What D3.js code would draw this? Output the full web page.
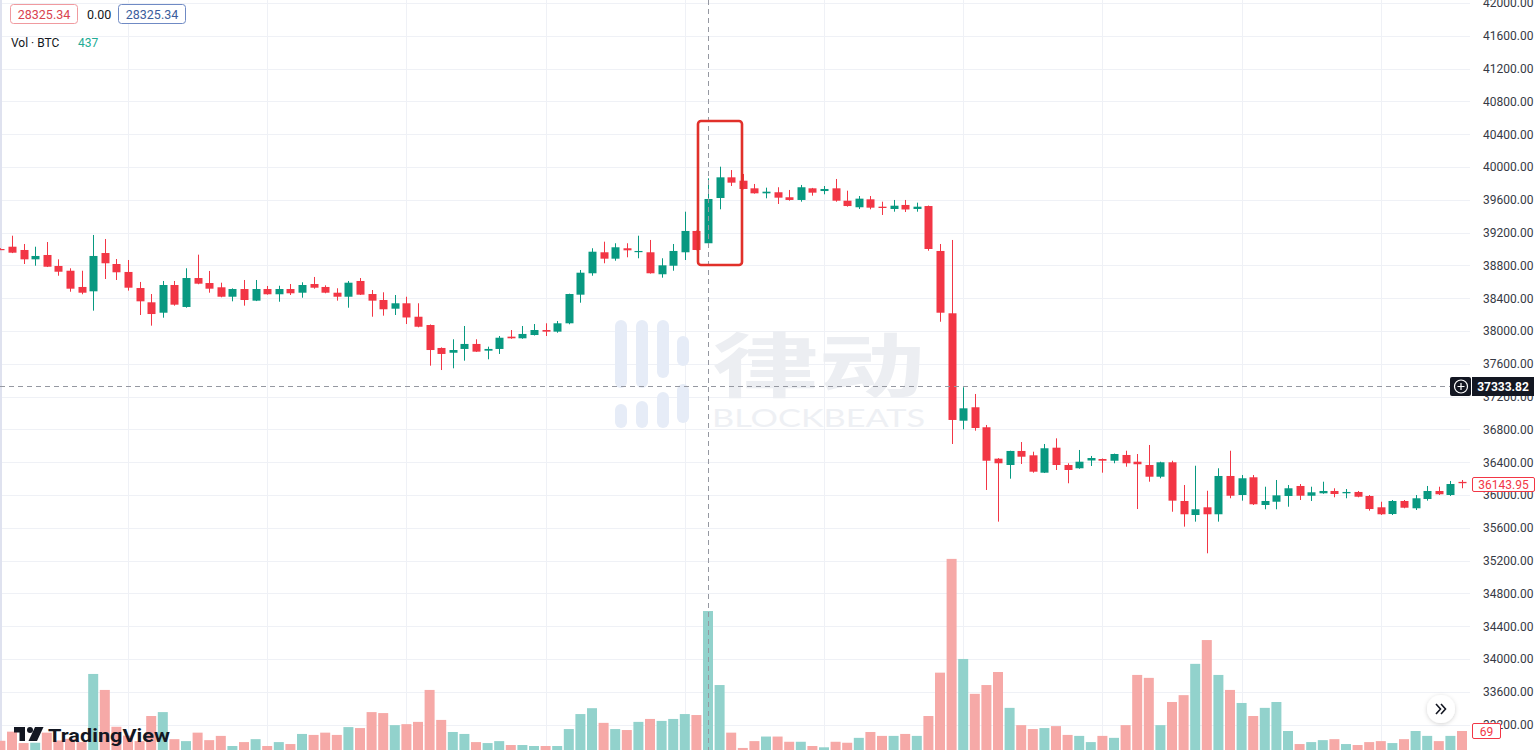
<!DOCTYPE html>
<html><head><meta charset="utf-8">
<script src="https://cdn.jsdelivr.net/npm/d3@7"></script>
<style>body{margin:0;background:#fff;overflow:hidden}svg{display:block}</style>
</head><body>
<svg id="c" width="1538" height="750"></svg>
<script>
// candle numbers (index -1 is the partly visible first candle)
const candleIdx = d3.range(-1, 126);
const opens = [39000,39028,38988,38874,38927,38793,38735,38537,38484,38951,38817,38720,38524,38350,38223,38561,38293,38646,38585,38533,38418,38512,38370,38512,38448,38512,38467,38573,38537,38467,38418,38610,38451,38378,38272,38338,38174,38073,37793,37735,37781,37842,37760,37781,37931,37911,37951,38012,37992,38094,38443,38704,38960,38882,39009,38967,38960,38692,38796,38960,39220,39070,39622,39874,39833,39740,39679,39692,39631,39598,39740,39707,39740,39589,39509,39606,39516,39488,39537,39488,39524,38976,38216,36906,37070,36826,36443,36366,36537,36484,36272,36577,36366,36326,36421,36439,36418,36488,36406,36366,36223,36399,35927,35756,35850,35765,36232,36000,36216,35878,35918,35988,36110,35991,36021,36049,36021,36037,35988,35850,35768,35927,35838,35951,36049,36000,36160];
const highs = [39010,39162,39061,39028,39085,38874,38765,38735,39171,39122,38878,38866,38598,38451,38610,38610,38765,38931,38732,38589,38520,38622,38622,38549,38552,38573,38594,38659,38557,38521,38610,38646,38500,38472,38439,38418,38338,38080,37800,37899,38061,37899,37809,37939,38012,38061,38085,38094,38122,38455,38744,39009,39089,39070,39070,39162,39110,38887,39061,39455,39225,39862,40004,39963,39915,39793,39748,39753,39720,39781,39745,39768,39854,39711,39646,39646,39577,39598,39598,39565,39530,39061,39110,37314,37232,36854,36450,36540,36646,36528,36622,36691,36387,36549,36476,36445,36505,36540,36500,36610,36406,36418,36122,36357,36052,36326,36540,36244,36244,36101,36183,36122,36134,36101,36162,36082,36073,36049,36000,35918,35939,35939,36000,36110,36101,36171,36183];
const lows = [38990,38950,38817,38796,38780,38674,38479,38448,38248,38634,38622,38492,38195,38065,38162,38309,38284,38570,38467,38411,38362,38309,38365,38443,38357,38439,38406,38516,38460,38370,38284,38439,38174,38187,38195,38085,38045,37577,37524,37545,37638,37745,37655,37720,37905,37905,37945,37939,37979,38082,38345,38674,38826,38857,38899,38887,38700,38650,38735,38866,38985,39040,39484,39768,39728,39675,39618,39549,39589,39577,39650,39667,39577,39516,39488,39484,39415,39455,39451,39455,38979,38113,36622,36801,36784,36061,35675,36199,36378,36272,36268,36305,36143,36320,36354,36272,36387,36345,35829,36162,36204,35796,35614,35675,35289,35675,35960,35931,35878,35826,35826,35857,35939,35927,36015,35972,35960,35972,35809,35756,35756,35838,35817,35931,36000,35988,36082];
const closes = [38995,38955,38874,38915,38784,38723,38516,38467,38915,38826,38716,38528,38362,38207,38561,38321,38646,38577,38516,38418,38512,38378,38512,38448,38512,38460,38561,38528,38467,38418,38589,38443,38370,38265,38338,38165,38052,37768,37720,37768,37842,37748,37781,37918,37911,37964,38012,37992,38094,38451,38711,38967,38882,39021,38984,38976,38704,38801,38976,39220,38988,39610,39874,39809,39732,39679,39699,39626,39598,39753,39687,39732,39589,39524,39614,39504,39500,39528,39482,39516,39000,38223,36915,37057,36817,36418,36387,36537,36467,36284,36570,36366,36305,36406,36451,36418,36500,36387,36375,36223,36399,35931,35765,35826,35765,36232,35991,36204,35887,35927,35996,36082,35991,36033,36049,36012,36037,35979,35829,35765,35927,35845,35960,36049,36009,36134,36143.95];
const volumes = [39,67,32,33,64,40,45,35,244,195,82,55,38,115,127,44,38,64,41,54,23,35,44,23,35,29,60,57,64,57,81,78,127,124,87,90,97,195,103,66,60,35,32,38,26,26,23,23,23,75,121,139,94,75,72,97,106,100,106,121,118,437,210,64,17,38,52,52,36,36,23,19,36,33,48,66,54,54,60,54,115,248,597,290,183,210,250,140,87,75,78,84,57,54,35,54,48,87,241,232,87,158,179,275,348,241,195,155,115,140,158,69,29,35,41,44,29,26,35,38,32,44,69,54,38,54,69];
const priceTicks = d3.range(33200, 42001, 400);
const gridCandles = [10,22,34,46,58,70,82,94,106,118];
const crossCandle = 60;
const crossPrice = 37333.82;
const lastPrice = 36143.95;
const lastVolume = 69;
const legendValues = ["28325.34","0.00","28325.34"];
const volLabel = "Vol · BTC";
const volValue = "437";

const W = 1538, H = 750, plotRight = 1470;
const svg = d3.select("#c");
const x = d3.scaleLinear().domain([0,125]).range([12,1462]);
const y = d3.scaleLinear().domain([33200,42000]).range([724.6,3]);
const yV = d3.scaleLinear().domain([0,600]).range([753.5,557.9]);
const UP="#089981", DN="#f23645", UPV="#92d2cc", DNV="#f6a9a7";
const font = "Roboto, 'Noto Sans', sans-serif";

const data = candleIdx.map((i,k)=>({i, o:opens[k], h:highs[k], l:lows[k], c:closes[k], v:volumes[k]}));

svg.append("rect").attr("width",W).attr("height",H).attr("fill","#fff");
// grid
const g = svg.append("g");
g.selectAll(".hg").data(priceTicks).join("line")
  .attr("x1",0).attr("x2",plotRight).attr("y1",d=>Math.round(y(d))+0.5).attr("y2",d=>Math.round(y(d))+0.5)
  .attr("stroke","#eff1f6");
g.selectAll(".vg").data(gridCandles).join("line")
  .attr("y1",0).attr("y2",H).attr("x1",d=>Math.round(x(d))+0.5).attr("x2",d=>Math.round(x(d))+0.5)
  .attr("stroke","#eff1f6");
svg.append("rect").attr("x",0).attr("y",0).attr("width",2).attr("height",H).attr("fill","#dfe2ef");

// watermark
const wm = svg.append("g");
const bars = [[615,320,388],[615,404,428],[636,320,388],[636,401,428],[657,320,378],[657,392,428],[677,336,366],[677,384,423]];
wm.selectAll("rect").data(bars).join("rect")
  .attr("x",d=>d[0]).attr("y",d=>d[1]).attr("width",12).attr("height",d=>d[2]-d[1]).attr("rx",6)
  .attr("fill","#e6ecf7");
wm.append("text").attr("x",712).attr("y",392).attr("font-family","'Noto Sans CJK SC', sans-serif")
  .attr("font-size",70).attr("font-weight",700).attr("fill","#eceef2")
  .attr("textLength",213).attr("lengthAdjust","spacingAndGlyphs").text("律动");
wm.append("text").attr("x",712).attr("y",427).attr("font-family","Lato, sans-serif")
  .attr("font-size",25).attr("fill","#eef0f4")
  .attr("textLength",213).attr("lengthAdjust","spacingAndGlyphs").text("BLOCKBEATS");

// volume
svg.append("g").selectAll("rect").data(data).join("rect")
  .attr("x",d=>x(d.i)-5).attr("width",10)
  .attr("y",d=>yV(d.v)).attr("height",d=>yV(0)-yV(d.v))
  .attr("fill",d=>d.c>=d.o?UPV:DNV);

// candles
const cg = svg.append("g");
cg.selectAll("line").data(data).join("line")
  .attr("x1",d=>Math.round(x(d.i))+0.5).attr("x2",d=>Math.round(x(d.i))+0.5)
  .attr("y1",d=>y(d.h)).attr("y2",d=>y(d.l))
  .attr("stroke",d=>d.c>=d.o?UP:DN).attr("stroke-width",1);
cg.selectAll("rect").data(data).join("rect")
  .attr("x",d=>Math.round(x(d.i))-3.5).attr("width",8)
  .attr("y",d=>y(Math.max(d.o,d.c))).attr("height",d=>Math.max(1.2,Math.abs(y(d.o)-y(d.c))))
  .attr("fill",d=>d.c>=d.o?UP:DN);

// crosshair
const cx = Math.round(x(crossCandle))+0.5, cy = Math.round(y(crossPrice))+0.5;
svg.append("line").attr("x1",cx).attr("x2",cx).attr("y1",0).attr("y2",H)
  .attr("stroke","#9598a1").attr("stroke-dasharray","5,4");
svg.append("line").attr("x1",0).attr("x2",1450).attr("y1",cy).attr("y2",cy)
  .attr("stroke","#9598a1").attr("stroke-dasharray","5,4");

// highlight box
svg.append("rect").attr("x",698).attr("y",121).attr("width",44).attr("height",144).attr("rx",3)
  .attr("fill","none").attr("stroke","#e1302a").attr("stroke-width",2.6);

// price axis labels
svg.append("g").selectAll("text").data(priceTicks).join("text")
  .attr("x",1483).attr("y",d=>y(d)+4.3).attr("font-family",font).attr("font-size",12)
  .attr("fill","#363a45").text(d=>d3.format(".2f")(d));

// last price label
svg.append("rect").attr("x",1472.5).attr("y",477.5).attr("width",62).attr("height",14).attr("rx",1.5)
  .attr("fill","#fff").attr("stroke",DN);
svg.append("text").attr("x",1503.5).attr("y",489).attr("text-anchor","middle").attr("font-family",font)
  .attr("font-size",12).attr("fill",DN).text(d3.format(".2f")(lastPrice));
// last volume label
svg.append("rect").attr("x",1472.5).attr("y",723.5).attr("width",28).attr("height",15).attr("rx",1.5)
  .attr("fill","#fff").attr("stroke",DN);
svg.append("text").attr("x",1486.5).attr("y",735.5).attr("text-anchor","middle").attr("font-family",font)
  .attr("font-size",12).attr("fill",DN).text(lastVolume);
// crosshair price label
svg.append("rect").attr("x",1450).attr("y",cy-9.5).attr("width",21).attr("height",19).attr("rx",2).attr("fill","#131722");
svg.append("rect").attr("x",1472).attr("y",cy-9.5).attr("width",62).attr("height",19).attr("fill","#131722");
svg.append("circle").attr("cx",1461).attr("cy",cy).attr("r",6.5).attr("fill","none").attr("stroke","#fff").attr("stroke-width",1.2);
svg.append("path").attr("d",`M1457.5,${cy}h7M1461,${cy-3.5}v7`).attr("stroke","#fff").attr("stroke-width",1.2);
svg.append("text").attr("x",1503).attr("y",cy+4.5).attr("text-anchor","middle").attr("font-family",font)
  .attr("font-size",12).attr("font-weight",700).attr("fill","#fff").text(d3.format(".2f")(crossPrice));

// legend
const lg = svg.append("g").attr("font-family",font).attr("font-size",12.5);
lg.append("rect").attr("x",10.5).attr("y",4.5).attr("width",67).attr("height",19).attr("rx",3).attr("fill","#fff").attr("stroke","#f09a9f");
lg.append("text").attr("x",44).attr("y",18.5).attr("text-anchor","middle").attr("fill","#d9434f").text(legendValues[0]);
lg.append("text").attr("x",87).attr("y",18.5).attr("fill","#131722").text(legendValues[1]);
lg.append("rect").attr("x",118.5).attr("y",4.5).attr("width",67).attr("height",19).attr("rx",3).attr("fill","#fff").attr("stroke","#6f8ac4");
lg.append("text").attr("x",152).attr("y",18.5).attr("text-anchor","middle").attr("fill","#3b5d9c").text(legendValues[2]);
lg.append("text").attr("x",11).attr("y",47).attr("font-size",12).attr("fill","#131722").text(volLabel);
lg.append("text").attr("x",78).attr("y",47).attr("font-size",12).attr("fill","#22ab94").text(volValue);

// TradingView logo
const tv = svg.append("g");
tv.append("path").attr("d","M14,727h11v14h-5.5v-8.5h-5.5z").attr("fill","#131722");
tv.append("circle").attr("cx",30).attr("cy",730).attr("r",3).attr("fill","#131722");
tv.append("path").attr("d","M35,727h8.5l-6.5,14h-8.5z").attr("fill","#131722");
tv.append("text").attr("x",48).attr("y",742).attr("font-family","Roboto, sans-serif").attr("font-weight",700)
  .attr("font-size",19).attr("fill","#131722").attr("textLength",122).attr("lengthAdjust","spacingAndGlyphs").text("TradingView");

// scroll button
const defs = svg.append("defs");
const f = defs.append("filter").attr("id","sh").attr("x","-50%").attr("y","-50%").attr("width","200%").attr("height","200%");
f.append("feDropShadow").attr("dx",0).attr("dy",1).attr("stdDeviation",2).attr("flood-color","#000").attr("flood-opacity",0.18);
svg.append("circle").attr("cx",1441).attr("cy",709).attr("r",14).attr("fill","#fff").attr("filter","url(#sh)");
svg.append("path").attr("d","M1436,704l4.5,5l-4.5,5M1441,704l4.5,5l-4.5,5").attr("fill","none").attr("stroke","#131722").attr("stroke-width",1.6);
</script>
</body></html>
